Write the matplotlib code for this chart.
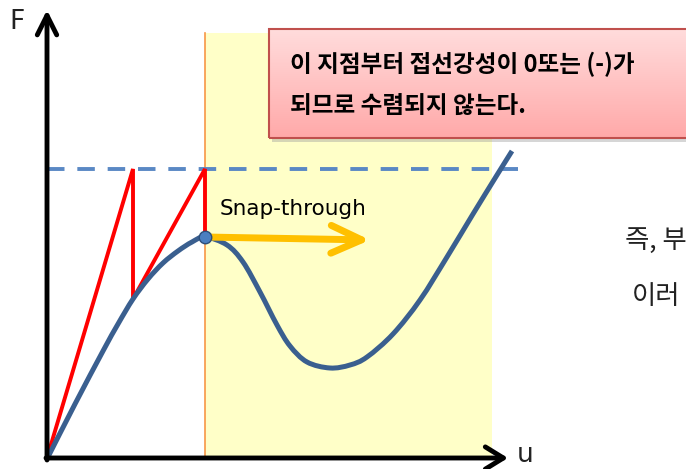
import numpy as np
import matplotlib
matplotlib.use("Agg")
import matplotlib.pyplot as plt
from matplotlib.patches import FancyArrowPatch, Rectangle, PathPatch
from matplotlib.path import Path
from matplotlib.colors import LinearSegmentedColormap

plt.rcParams['font.family'] = ['DejaVu Sans', 'Noto Sans CJK KR']

# load-displacement path (u, F)
u_curve = [1, 28, 56, 71, 86, 101, 116, 131, 145, 158, 180, 196, 213, 230, 243,
           260, 283, 303, 320, 346, 373, 400, 426, 450, 465]
F_curve = [1, 54, 107, 134, 159, 179, 195, 207, 216, 221, 213, 196, 166, 133, 112,
           96, 90, 93, 101, 124, 158, 201, 244, 283, 307]

# load-control iterations (red)
u_iter = [0, 86, 86, 158, 158]
F_iter = [0, 289, 159, 289, 221]

F_load = 289          # applied load level (dashed)
u_limit = 158         # limit point
F_limit = 221
u_region_end = 445
F_top = 425

note_lines = ["이 지점부터 접선강성이 0또는 (-)가", "되므로 수렴되지 않는다."]
side_lines = ["즉, 부", "이러"]


def smooth_path(xs, ys):
    # smoothed line through the read points (Catmull-Rom drawn as bezier segments)
    p = np.column_stack([xs, ys]).astype(float)
    p_ext = np.vstack([p[0], p, p[-1]])
    verts = [p[0]]
    codes = [Path.MOVETO]
    for i in range(1, len(p_ext) - 2):
        c1 = p_ext[i] + (p_ext[i + 1] - p_ext[i - 1]) / 6
        c2 = p_ext[i + 1] - (p_ext[i + 2] - p_ext[i]) / 6
        verts += [c1, c2, p_ext[i + 1]]
        codes += [Path.CURVE4] * 3
    return Path(verts, codes)


fig = plt.figure(figsize=(6.86, 4.69), dpi=100)
ax = fig.add_axes([0, 0, 1, 1])

# yellow unstable region + orange boundary
ax.fill_between([u_limit, u_region_end], 0, F_top, color='#FFFFC8', zorder=1, lw=0)
ax.plot([u_limit, u_limit], [0, F_top], color='#F79646', lw=1.2, zorder=2)

# dashed load level
ax.plot([0, 471], [F_load, F_load], color='#5A88C4', lw=2.8, dashes=(4.5, 3.3), zorder=3)

# red iteration path
ax.plot(u_iter, F_iter, color='#FF0000', lw=2.8, zorder=4, solid_joinstyle='miter')

# blue equilibrium curve
ax.add_patch(PathPatch(smooth_path(u_curve, F_curve), fill=False, ec='#3A5F8F',
                       lw=3.6, zorder=5, capstyle='butt'))

# snap-through arrow
snap = FancyArrowPatch((u_limit, F_limit), (323, 218),
                       arrowstyle='->, head_length=22, head_width=10',
                       mutation_scale=1, color='#FFC000', lw=5,
                       capstyle='round', joinstyle='round',
                       shrinkA=0, shrinkB=0, zorder=6)
ax.add_patch(snap)
ax.text(173, 243, "Snap-through", fontsize=15.5, va='baseline', ha='left', zorder=10)

# limit point marker
ax.plot([u_limit], [F_limit], 'o', ms=9, color='#4A7FC0', mec='#2B4E7A', mew=1, zorder=7)

# axes arrows
ax.add_patch(FancyArrowPatch((0, -2), (0, 448), arrowstyle='->, head_length=14, head_width=7',
                             mutation_scale=1, color='black', lw=3.5, shrinkA=0, shrinkB=0,
                             zorder=8))
ax.add_patch(FancyArrowPatch((-1, 0), (461, 0), arrowstyle='->, head_length=13, head_width=8',
                             mutation_scale=1, color='black', lw=3.5, shrinkA=0, shrinkB=0,
                             zorder=8))
ax.text(-30, 436, "F", fontsize=19, ha='center', va='center', color='#222222')
ax.text(478, 3, "u", fontsize=19, ha='center', va='center', color='#222222')

# pink note box with shadow and gradient
bx0, bx1, by0, by1 = 222, 660, 320, 429
ax.add_patch(Rectangle((bx0 + 3, by0 - 4), bx1 - bx0, by1 - by0, color='#9A9A9A',
                       alpha=0.4, lw=0, zorder=8))
cmap = LinearSegmentedColormap.from_list('pink', ['#FFDCDC', '#FFA9A9'])
ax.imshow(np.linspace(0, 1, 100).reshape(-1, 1), cmap=cmap, aspect='auto',
          extent=[bx0, bx1, by0, by1], zorder=9)
ax.add_patch(Rectangle((bx0, by0), bx1 - bx0, by1 - by0, fill=False,
                       ec='#C0504D', lw=1.5, zorder=9.5))
ax.text(243, 394, note_lines[0], fontsize=17, ha='left', va='center',
        family=['Noto Sans CJK KR'], weight='bold', zorder=10)
ax.text(243, 351, note_lines[1], fontsize=17, ha='left', va='center',
        family=['Noto Sans CJK KR'], weight='bold', zorder=10)

# cut-off side text
ax.text(578, 218, side_lines[0], fontsize=19, ha='left', va='center',
        family=['Noto Sans CJK KR'], color='#222222')
ax.text(585, 162, side_lines[1], fontsize=19, ha='left', va='center',
        family=['Noto Sans CJK KR'], color='#222222')

ax.set_xlim(-47, 639)
ax.set_ylim(-11, 458)
ax.axis('off')

fig.savefig('out.png', dpi=100)
